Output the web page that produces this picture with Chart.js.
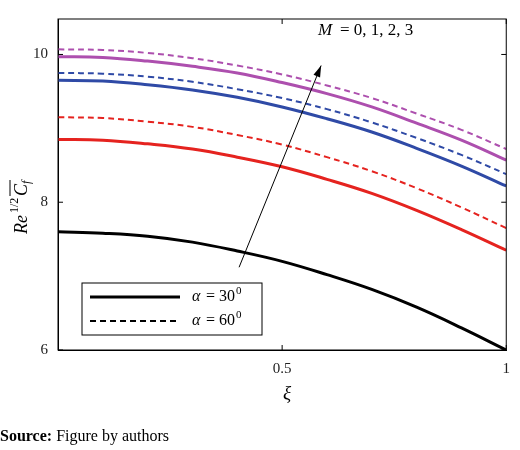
<!DOCTYPE html>
<html><head><meta charset="utf-8">
<script src="https://cdn.jsdelivr.net/npm/chart.js@4/dist/chart.umd.min.js"></script>
<style>body{margin:0;background:#fff}#wrap{width:520px;height:450px}</style>
</head><body><div id="wrap"><canvas id="c" width="520" height="450"></canvas></div>
<script>
// xi values and curves
var xi = [0, 0.1, 0.2, 0.3, 0.4, 0.5, 0.6, 0.7, 0.8, 0.9, 1];
var black30 = [7.60, 7.58, 7.54, 7.46, 7.34, 7.20, 7.02, 6.82, 6.58, 6.30, 6.00];
var red30 = [8.85, 8.84, 8.79, 8.72, 8.61, 8.48, 8.31, 8.12, 7.89, 7.63, 7.35];
var red60 = [9.15, 9.14, 9.09, 9.02, 8.91, 8.78, 8.61, 8.42, 8.19, 7.93, 7.65];
var blue30 = [9.65, 9.64, 9.59, 9.52, 9.42, 9.29, 9.13, 8.95, 8.73, 8.49, 8.22];
var blue60 = [9.75, 9.74, 9.70, 9.63, 9.53, 9.41, 9.26, 9.08, 8.87, 8.64, 8.38];
var mag30 = [9.97, 9.96, 9.91, 9.84, 9.75, 9.62, 9.47, 9.29, 9.07, 8.84, 8.57];
var mag60 = [10.07, 10.06, 10.02, 9.95, 9.85, 9.73, 9.58, 9.41, 9.20, 8.98, 8.72];
var xTicks = [0.5, 1];
var yTicks = [6, 8, 10];

var serif = "'Liberation Serif', 'DejaVu Serif', serif";

function pts(arr){ return arr.map(function(v, i){ return {x: xi[i], y: v}; }); }
function line(data, color, dashed){
  return {data: pts(data), borderColor: color, borderWidth: dashed ? 2 : 3,
    borderDash: dashed ? [6, 4] : [], pointRadius: 0, fill: false, tension: 0.4};
}

var extras = {
  id: 'extras',
  afterDraw: function(chart){
    var c = chart.ctx, xs = chart.scales.x, ys = chart.scales.y, a = chart.chartArea;
    c.save();
    // box and inward ticks
    c.strokeStyle = '#000'; c.lineWidth = 1;
    c.strokeRect(a.left, a.top, a.right - a.left, a.bottom - a.top);
    xTicks.forEach(function(v){
      var px = xs.getPixelForValue(v);
      c.beginPath(); c.moveTo(px, a.bottom); c.lineTo(px, a.bottom - 5);
      c.moveTo(px, a.top); c.lineTo(px, a.top + 5); c.stroke();
    });
    yTicks.forEach(function(v){
      var py = ys.getPixelForValue(v);
      c.beginPath(); c.moveTo(a.left, py); c.lineTo(a.left + 5, py);
      c.moveTo(a.right, py); c.lineTo(a.right - 5, py); c.stroke();
    });
    // arrow
    var x1 = xs.getPixelForValue(0.404), y1 = ys.getPixelForValue(7.12);
    var x2 = xs.getPixelForValue(0.587), y2 = ys.getPixelForValue(9.85);
    c.beginPath(); c.moveTo(x1, y1); c.lineTo(x2, y2); c.stroke();
    var ang = Math.atan2(y2 - y1, x2 - x1);
    c.beginPath(); c.moveTo(x2, y2);
    c.lineTo(x2 - 12*Math.cos(ang - 0.3), y2 - 12*Math.sin(ang - 0.3));
    c.lineTo(x2 - 12*Math.cos(ang + 0.3), y2 - 12*Math.sin(ang + 0.3));
    c.closePath(); c.fillStyle = '#000'; c.fill();
    c.font = 'italic 17px ' + serif; c.textBaseline = 'middle';
    c.fillText('M', 318, 31);
    c.font = '17px ' + serif; c.fillText('= 0, 1, 2, 3', 340, 31);
    // legend
    c.fillStyle = '#fff'; c.fillRect(82, 283, 180, 52);
    c.strokeRect(82, 283, 180, 52);
    c.lineWidth = 3; c.beginPath(); c.moveTo(90, 297); c.lineTo(180, 297); c.stroke();
    c.lineWidth = 2; c.setLineDash([6, 4]);
    c.beginPath(); c.moveTo(90, 321); c.lineTo(180, 321); c.stroke();
    c.setLineDash([]); c.fillStyle = '#000';
    [[297, '30'], [321, '60']].forEach(function(r){
      c.font = 'italic 16px ' + serif; c.fillText('\u03b1', 192, r[0]);
      c.font = '16px ' + serif; c.fillText('= ' + r[1], 206, r[0]);
      var w = c.measureText('= ' + r[1]).width;
      c.font = '11px ' + serif; c.fillText('0', 207 + w, r[0] - 6);
    });
    // y title
    c.translate(22, 200); c.rotate(-Math.PI/2);
    c.font = 'italic 18px ' + serif; c.textAlign = 'left';
    c.fillText('Re', -34, 0);
    c.font = '12px ' + serif; c.fillText('1/2', -13, -7);
    c.font = 'italic 18px ' + serif; c.fillText('C', 4, 0);
    c.font = 'italic 12px ' + serif; c.fillText('f', 16, 5);
    c.lineWidth = 1; c.beginPath(); c.moveTo(4, -12); c.lineTo(20, -12); c.stroke();
    c.setTransform(1, 0, 0, 1, 0, 0);
    var dpr = chart.currentDevicePixelRatio || 1; c.scale(dpr, dpr);
    // x title and source
    c.font = 'italic 19px ' + serif; c.textAlign = 'center';
    c.fillText('\u03be', 287, 394);
    c.textAlign = 'left';
    c.font = 'bold 16px ' + serif; c.fillText('Source:', 0, 437);
    var sw = c.measureText('Source: ').width;
    c.font = '16px ' + serif; c.fillText('Figure by authors', sw, 437);
    c.restore();
  }
};

new Chart(document.getElementById('c'), {
  type: 'line',
  data: {datasets: [
    line(black30, '#000000', false),
    line(red30, '#e5231f', false), line(red60, '#e5231f', true),
    line(blue30, '#2f4aa6', false), line(blue60, '#2f4aa6', true),
    line(mag30, '#ad4fae', false), line(mag60, '#ad4fae', true)
  ]},
  options: {
    responsive: false, animation: false,
    layout: {padding: {left: 0, right: -12, top: -12, bottom: 62}},
    plugins: {legend: {display: false}, tooltip: {enabled: false}},
    scales: {
      x: {type: 'linear', min: 0, max: 1,
        afterBuildTicks: function(s){ s.ticks = xTicks.map(function(v){ return {value: v}; }); },
        grid: {display: false, drawTicks: false}, border: {color: '#000'},
        ticks: {color: '#222', padding: 10, font: {size: 15, family: serif}, maxRotation: 0,
          callback: function(v){ return String(v); }}},
      y: {min: 6, max: 10.48,
        afterBuildTicks: function(s){ s.ticks = yTicks.map(function(v){ return {value: v}; }); },
        afterFit: function(s){ s.width = 58; },
        grid: {display: false, drawTicks: false}, border: {color: '#000'},
        ticks: {color: '#222', padding: 10, font: {size: 15, family: serif}}}
    }
  },
  plugins: [extras]
});
</script></body></html>
